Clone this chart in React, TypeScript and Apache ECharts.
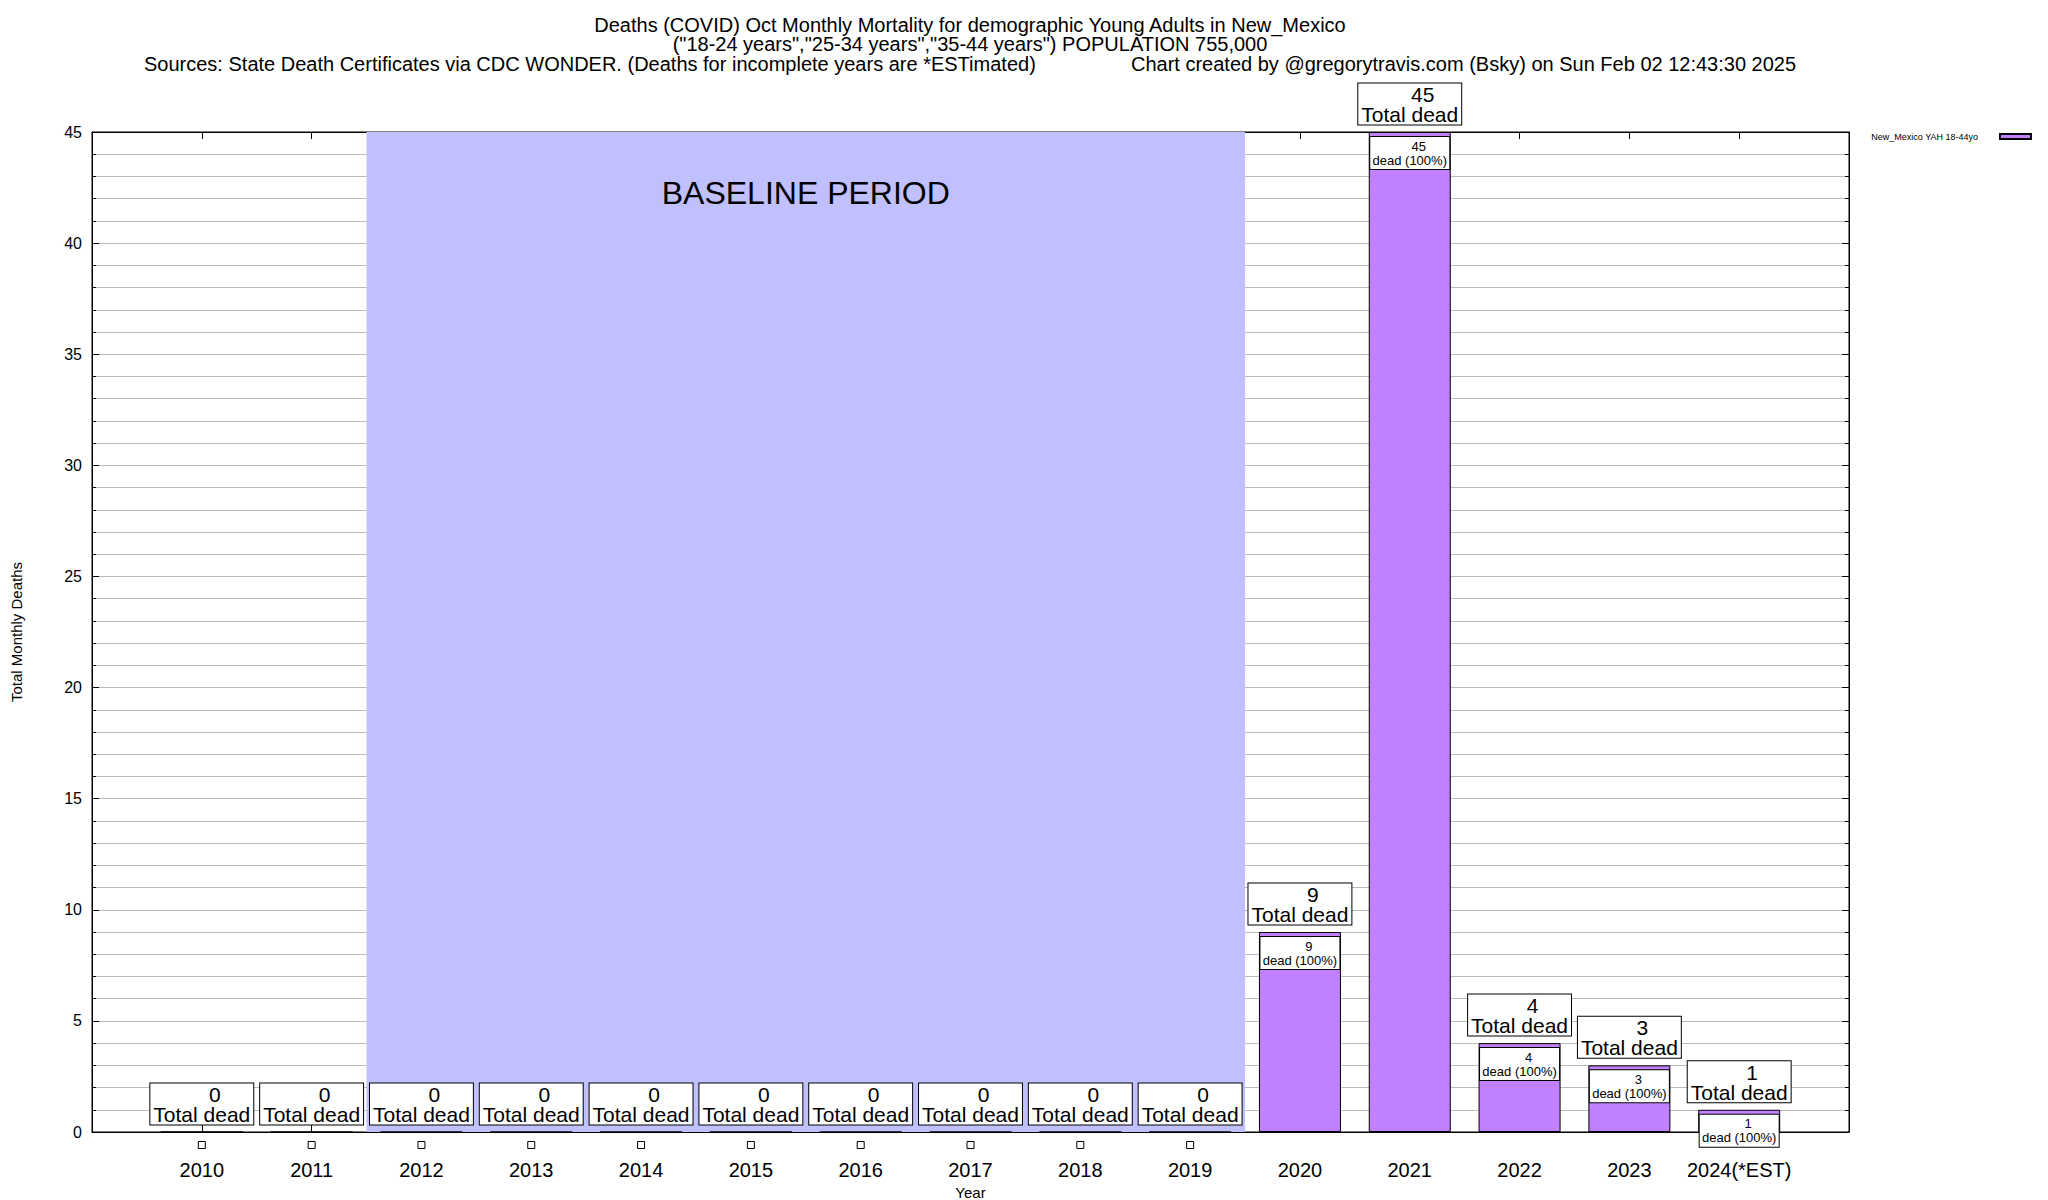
import React, { useEffect, useRef } from "react";
import * as echarts from "echarts";

const categories = [
  "2010", "2011", "2012", "2013", "2014", "2015", "2016", "2017",
  "2018", "2019", "2020", "2021", "2022", "2023", "2024(*EST)",
];
const deaths = [0, 0, 0, 0, 0, 0, 0, 0, 0, 0, 9, 45, 4, 3, 1];
const seriesName = "New_Mexico YAH 18-44yo";
const baselineFrom = "2012";
const baselineTo = "2019";
const yMin = 0;
const yMax = 45;
const yStep = 5;
const titleLines = [
  "Deaths (COVID) Oct Monthly Mortality for demographic Young Adults in New_Mexico",
  '("18-24 years","25-34 years","35-44 years") POPULATION 755,000',
];
const sourceText =
  "Sources: State Death Certificates via CDC WONDER. (Deaths for incomplete years are *ESTimated)";
const creditText = "Chart created by @gregorytravis.com (Bsky) on Sun Feb 02 12:43:30 2025";

const FONT = "'Liberation Sans', Arial, Helvetica, sans-serif";

export default function App() {
  const ref = useRef<HTMLDivElement>(null);
  useEffect(() => {
    document.body.style.margin = "0";
    const chart = echarts.init(ref.current!, null, { renderer: "svg" });
    const barData = deaths.map((v, i) => ({
      value: [i, v],
      label: { show: v > 0 },
    }));
    const totals = deaths.map((v, i) => [i, v]);
    const zeros = deaths
      .map((v, i) => (v === 0 ? [i, v] : null))
      .filter((d) => d !== null);
    const bStart = categories.indexOf(baselineFrom) - 0.5;
    const bEnd = categories.indexOf(baselineTo) + 0.5;

    const xBase = {
      type: "value",
      min: -1,
      max: categories.length,
      interval: 1,
      splitLine: { show: false },
      axisLine: { show: true, onZero: false, lineStyle: { color: "#000", width: 1 } },
      axisTick: { show: true, inside: true, length: 7, lineStyle: { color: "#000" } },
    };
    const yBase = {
      type: "value",
      min: yMin,
      max: yMax,
      interval: yStep,
      axisLine: { show: true, onZero: false, lineStyle: { color: "#000", width: 1 } },
      axisTick: { show: true, inside: true, length: 7, lineStyle: { color: "#000" } },
      minorTick: { show: true, splitNumber: 5, length: 4, lineStyle: { color: "#000" } },
    };

    chart.setOption({
      animation: false,
      backgroundColor: "#fff",
      textStyle: { fontFamily: FONT },
      title: [
        {
          text: titleLines.join("\n"),
          left: 970,
          top: 15,
          padding: 0,
          textAlign: "center",
          textStyle: { fontFamily: FONT, fontSize: 20, fontWeight: "normal", color: "#000", lineHeight: 19.5 },
        },
        {
          text: sourceText,
          left: 144,
          top: 54,
          padding: 0,
          textStyle: { fontFamily: FONT, fontSize: 20, fontWeight: "normal", color: "#000", lineHeight: 20 },
        },
        {
          text: creditText,
          left: 1131,
          top: 54,
          padding: 0,
          textStyle: { fontFamily: FONT, fontSize: 20, fontWeight: "normal", color: "#000", lineHeight: 20 },
        },
      ],
      legend: {
        data: [seriesName],
        right: 16,
        top: 132,
        padding: 0,
        align: "right",
        icon: "rect",
        itemWidth: 31,
        itemHeight: 5,
        textStyle: { fontFamily: FONT, fontSize: 9, color: "#000", padding: [0, 17, 0, 0] },
      },
      grid: {
        left: 92,
        right: 199,
        top: 132,
        bottom: 68,
        containLabel: false,
        outerBoundsMode: "none",
        show: true,
        borderColor: "#000",
        borderWidth: 1,
        backgroundColor: "transparent",
      },
      xAxis: [
        {
          ...xBase,
          position: "bottom",
          name: "Year",
          nameLocation: "middle",
          nameGap: 45,
          nameTextStyle: { fontFamily: FONT, fontSize: 15, color: "#000", verticalAlign: "top" },
          axisLabel: {
            fontFamily: FONT,
            fontSize: 20,
            color: "#000",
            margin: 28,
            formatter: (v: number) => categories[v] ?? "",
          },
        },
        {
          ...xBase,
          position: "top",
          axisLabel: { show: false },
        },
      ],
      yAxis: [
        {
          ...yBase,
          position: "left",
          name: "Total Monthly Deaths",
          nameLocation: "middle",
          nameRotate: 90,
          nameGap: 68,
          nameTextStyle: { fontFamily: FONT, fontSize: 15, color: "#000" },
          axisLabel: { fontFamily: FONT, fontSize: 16, color: "#000", margin: 10 },
          splitLine: { show: true, lineStyle: { color: "#bcbcbc", width: 1 } },
          minorSplitLine: { show: true, lineStyle: { color: "#bcbcbc", width: 1 } },
        },
        {
          ...yBase,
          position: "right",
          axisLabel: { show: false },
          splitLine: { show: false },
        },
      ],
      series: [
        {
          name: seriesName,
          type: "bar",
          xAxisIndex: 0,
          yAxisIndex: 0,
          barWidth: 82,
          data: barData,
          itemStyle: { color: "#c080ff", borderColor: "#000", borderWidth: 1 },
          label: {
            position: "insideTop",
            distance: 5,
            backgroundColor: "#fff",
            borderColor: "#000",
            borderWidth: 1,
            width: 79,
            align: "center",
            padding: [2, 0, 2, 0],
            fontFamily: FONT,
            fontSize: 13,
            lineHeight: 14,
            color: "#000",
            formatter: (p: any) => `{n|${p.value[1]}}\n{t|dead (100%)}`,
            rich: {
              n: { fontFamily: FONT, fontSize: 13, lineHeight: 14, color: "#000", padding: [0, 0, 0, 18], align: "center" },
              t: { fontFamily: FONT, fontSize: 13, lineHeight: 14, color: "#000", align: "center" },
            },
          },
          markArea: {
            silent: true,
            itemStyle: { color: "#c0c0ff", opacity: 1 },
            label: {
              show: true,
              position: "insideTop",
              distance: 45,
              fontFamily: FONT,
              fontSize: 32,
              color: "#000",
            },
            data: [[{ xAxis: bStart, name: "BASELINE PERIOD" }, { xAxis: bEnd }]],
          },
        },
        {
          name: "totals",
          type: "scatter",
          xAxisIndex: 0,
          yAxisIndex: 0,
          symbol: "circle",
          symbolSize: 1,
          silent: true,
          itemStyle: { color: "rgba(0,0,0,0)", opacity: 1 },
          data: totals,
          z: 5,
          label: {
            show: true,
            position: "top",
            distance: 7,
            opacity: 1,
            backgroundColor: "#fff",
            borderColor: "#000",
            borderWidth: 1,
            padding: [1, 3, 0, 3],
            fontFamily: FONT,
            fontSize: 21,
            lineHeight: 20,
            color: "#000",
            formatter: (p: any) => `{n|${p.value[1]}}\n{t|Total dead}`,
            rich: {
              n: { fontFamily: FONT, fontSize: 21, lineHeight: 20, color: "#000", padding: [0, 0, 0, 26] },
              t: { fontFamily: FONT, fontSize: 21, lineHeight: 20, color: "#000" },
            },
          },
        },
        {
          name: "zeros",
          type: "scatter",
          xAxisIndex: 0,
          yAxisIndex: 0,
          symbol: "rect",
          symbolSize: 7,
          symbolOffset: [0, 13],
          silent: true,
          itemStyle: { color: "#fff", borderColor: "#000", borderWidth: 1, opacity: 1 },
          data: zeros,
          z: 5,
        },
      ],
    });
    return () => chart.dispose();
  }, []);
  return (
    <div
      ref={ref}
      style={{ position: "absolute", left: 0, top: 0, width: 2048, height: 1200 }}
    />
  );
}
